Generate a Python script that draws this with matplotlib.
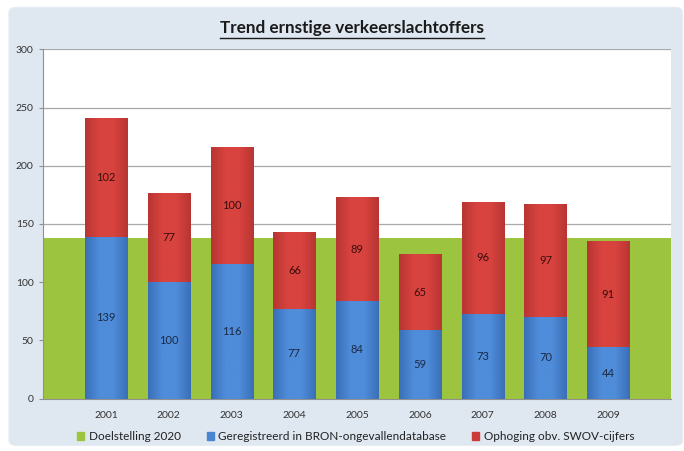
import matplotlib.pyplot as plt
import numpy as np
from matplotlib.patches import FancyBboxPatch, Patch
from matplotlib.colors import LinearSegmentedColormap

years = ['2001', '2002', '2003', '2004', '2005', '2006', '2007', '2008', '2009']
geregistreerd = [139, 100, 116, 77, 84, 59, 73, 70, 44]
ophoging = [102, 77, 100, 66, 89, 65, 96, 97, 91]
doelstelling = 138

green = '#9dc43e'
blue = '#4a85d2'
red = '#cc3b39'

plt.rcParams['font.family'] = ['Lato', 'DejaVu Sans']

fig = plt.figure(figsize=(6.84, 4.51), dpi=100)
fig.patch.set_facecolor('white')

# light blue chart panel
panel = FancyBboxPatch((0.013, 0.012), 0.985, 0.972, boxstyle='round,pad=0,rounding_size=0.012',
                       transform=fig.transFigure, facecolor='#dfe7f1', edgecolor='#e8edf4',
                       linewidth=0.8, zorder=-5)
fig.patches.append(panel)

ax = fig.add_axes([0.0633, 0.116, 0.9177, 0.7747])
ax.set_zorder(1)
ax.set_facecolor('white')

x = np.arange(len(years))
w = 0.67

# target band across the full category range
ax.fill_between([-1, len(years)], 0, doelstelling, color=green, zorder=1, linewidth=0)

b1 = ax.bar(x, geregistreerd, w, color=blue, edgecolor='#2f5f9a', linewidth=0.6, zorder=3)
b2 = ax.bar(x, ophoging, w, bottom=geregistreerd, color=red, edgecolor='#8e2a28',
            linewidth=0.6, zorder=3)

# horizontal shading on the bars (lighter in the middle)
def shade(bars, c_dark, c_light):
    cmap = LinearSegmentedColormap.from_list('s', [c_dark, c_light, c_light, c_dark])
    grad = np.linspace(0, 1, 64).reshape(1, -1)
    for b in bars:
        x0, y0 = b.get_x(), b.get_y()
        im = ax.imshow(grad, cmap=cmap, aspect='auto', zorder=3.5,
                       extent=[x0, x0 + b.get_width(), y0, y0 + b.get_height()])
        im.set_clip_path(b)

shade(b1, '#3a6fb8', '#4f8cd9')
shade(b2, '#b83533', '#d8433f')

for i in range(len(years)):
    ax.text(x[i], geregistreerd[i] / 2, str(geregistreerd[i]), ha='center', va='center',
            fontsize=8, color='#1a2a45', zorder=5)
    ax.text(x[i], geregistreerd[i] + ophoging[i] / 2, str(ophoging[i]), ha='center', va='center',
            fontsize=8, color='#3a0d0c', zorder=5)

ax.set_xlim(-1, len(years))
ax.set_ylim(0, 300)
ax.set_yticks(range(0, 301, 50))
ax.set_xticks(x)
ax.set_xticklabels(years)
ax.yaxis.grid(True, color='#a8a8a8', linewidth=0.9, zorder=0)
ax.set_axisbelow(True)
ax.tick_params(axis='y', length=3, color='#909090', labelsize=7.5, labelcolor='#333333', pad=4)
ax.tick_params(axis='x', length=0, labelsize=7.5, labelcolor='#333333', pad=9)
for s in ['top', 'right']:
    ax.spines[s].set_visible(False)
ax.spines['left'].set_color('#909090')
ax.spines['bottom'].set_color('#909090')

# title with underline
t = fig.text(0.515, 0.937, 'Trend ernstige verkeerslachtoffers', ha='center', va='center',
             fontsize=12.3, fontweight='bold', color='#1a1a1a')
fig.canvas.draw()
bb = t.get_window_extent().transformed(fig.transFigure.inverted())
fig.add_artist(plt.Line2D([bb.x0, bb.x1], [bb.y0 - 0.004, bb.y0 - 0.004], color='#1a1a1a',
                          linewidth=1.0, transform=fig.transFigure))

handles = [Patch(color=green), Patch(color=blue), Patch(color=red)]
labels = ['Doelstelling 2020', 'Geregistreerd in BRON-ongevallendatabase', 'Ophoging obv. SWOV-cijfers']
fig.legend(handles, labels, loc='center', bbox_to_anchor=(0.52, 0.032), ncol=3, frameon=False,
           fontsize=8.5, handlelength=0.6, handleheight=0.6, handletextpad=0.4, columnspacing=2.2,
           labelcolor='#222222')

fig.savefig('out.png', dpi=100, facecolor='white')
